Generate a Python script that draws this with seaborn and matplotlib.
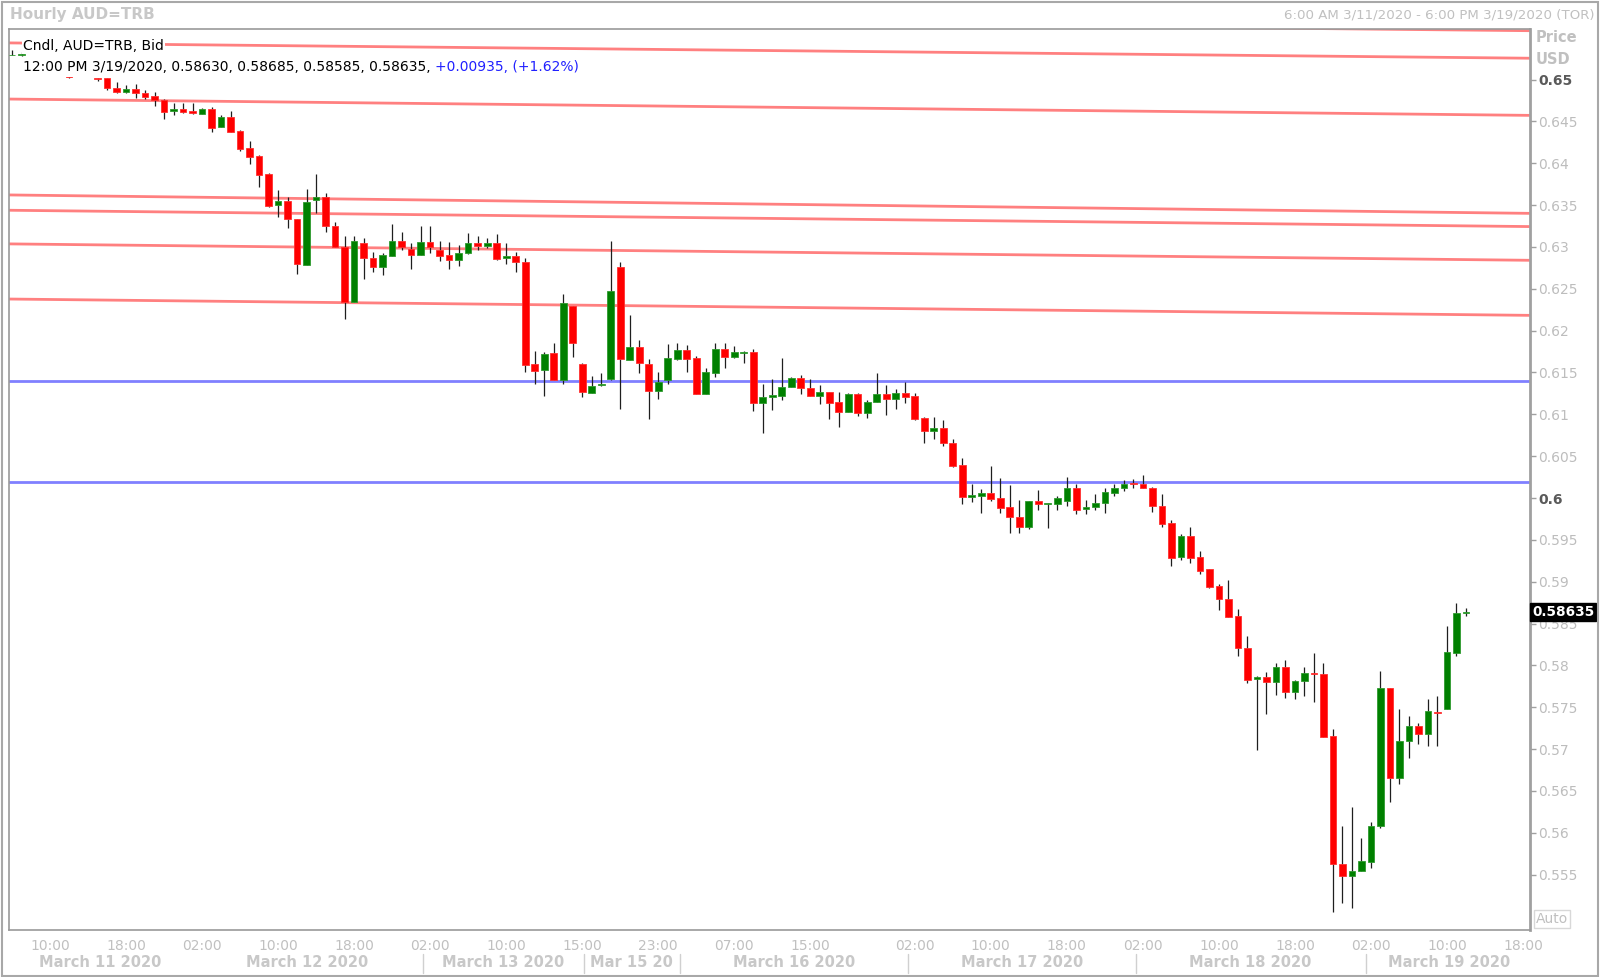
import matplotlib
matplotlib.use("Agg")
import matplotlib.pyplot as plt
import matplotlib.transforms as mtransforms
from matplotlib.patches import Rectangle
import pandas as pd
import seaborn as sns

# hourly AUD=TRB bid candles, 6:00 AM 3/11/2020 .. 12:00 PM 3/19/2020
opens = [0.6529, 0.6529, 0.6523, 0.6518, 0.6514, 0.6510, 0.6506, 0.6506, 0.6508, 0.65016,
         0.65016, 0.64904, 0.64857, 0.64888, 0.64837, 0.64805, 0.64757, 0.64629, 0.64645, 0.64625,
         0.64590, 0.64645, 0.64430, 0.64558, 0.64386, 0.64179, 0.64088, 0.63873, 0.63498, 0.63554,
         0.63331, 0.62789, 0.63562, 0.63602, 0.63255, 0.63004, 0.62347, 0.63044, 0.62865, 0.62757,
         0.62892, 0.63072, 0.62972, 0.62908, 0.63060, 0.62964, 0.62904, 0.62845, 0.62924, 0.63044,
         0.63012, 0.63052, 0.62865, 0.62892, 0.62825, 0.61602, 0.61530, 0.61729, 0.61411, 0.62295,
         0.61602, 0.61259, 0.61351, 0.61423, 0.62765, 0.61650, 0.61801, 0.61602, 0.61279, 0.61411,
         0.61662, 0.61769, 0.61678, 0.61243, 0.61490, 0.61777, 0.61690, 0.61733, 0.61741, 0.61140,
         0.61204, 0.61223, 0.61331, 0.61431, 0.61319, 0.61223, 0.61271, 0.61144, 0.61024, 0.61243,
         0.61012, 0.61144, 0.61243, 0.61184, 0.61251, 0.61220, 0.60955, 0.60800, 0.60840, 0.60661,
         0.60394, 0.60008, 0.60028, 0.60055, 0.60004, 0.59888, 0.59777, 0.59649, 0.59964, 0.59928,
         0.59928, 0.59968, 0.60123, 0.59868, 0.59896, 0.59936, 0.60063, 0.60123, 0.60175, 0.60167,
         0.60123, 0.59908, 0.59697, 0.59299, 0.59546, 0.59291, 0.59147, 0.58952, 0.58793, 0.58590,
         0.58203, 0.57832, 0.57856, 0.57797, 0.57984, 0.57685, 0.57813, 0.57904, 0.57896, 0.57155,
         0.55621, 0.55486, 0.55542, 0.55653, 0.56084, 0.57725, 0.56657, 0.57096, 0.57279, 0.57179,
         0.57438, 0.57478, 0.58151, 0.58630]
highs = [0.6535, 0.6533, 0.6523, 0.6520, 0.6516, 0.6512, 0.6507, 0.6510, 0.6510, 0.65020,
         0.65020, 0.64968, 0.64936, 0.64944, 0.64876, 0.64853, 0.64765, 0.64725, 0.64725, 0.64725,
         0.64657, 0.64669, 0.64578, 0.64625, 0.64398, 0.64267, 0.64100, 0.63880, 0.63681, 0.63602,
         0.63331, 0.63689, 0.63868, 0.63641, 0.63295, 0.63131, 0.63131, 0.63104, 0.62936, 0.62932,
         0.63275, 0.63175, 0.63044, 0.63251, 0.63251, 0.63072, 0.63056, 0.63024, 0.63163, 0.63131,
         0.63104, 0.63155, 0.63044, 0.62936, 0.62873, 0.61757, 0.61749, 0.61849, 0.62439, 0.62295,
         0.61618, 0.61458, 0.61490, 0.63076, 0.62825, 0.62188, 0.61889, 0.61662, 0.61502, 0.61837,
         0.61849, 0.61829, 0.61701, 0.61550, 0.61857, 0.61849, 0.61821, 0.61761, 0.61777, 0.61359,
         0.61419, 0.61678, 0.61450, 0.61466, 0.61419, 0.61351, 0.61271, 0.61263, 0.61259, 0.61251,
         0.61172, 0.61490, 0.61351, 0.61303, 0.61383, 0.61251, 0.60973, 0.60972, 0.60932, 0.60701,
         0.60474, 0.60167, 0.60103, 0.60386, 0.60235, 0.60155, 0.59976, 0.59964, 0.60095, 0.59940,
         0.60028, 0.60247, 0.60167, 0.59976, 0.60044, 0.60115, 0.60167, 0.60215, 0.60227, 0.60275,
         0.60135, 0.60048, 0.59737, 0.59570, 0.59649, 0.59366, 0.59147, 0.58968, 0.59020, 0.58670,
         0.58351, 0.57872, 0.57916, 0.58032, 0.58064, 0.57825, 0.57976, 0.58151, 0.58024, 0.57235,
         0.56084, 0.56311, 0.55933, 0.56131, 0.57932, 0.57725, 0.57474, 0.57394, 0.57307, 0.57597,
         0.57633, 0.58470, 0.58749, 0.58685]
lows = [0.6529, 0.6528, 0.6515, 0.6512, 0.6508, 0.6506, 0.6502, 0.6505, 0.6505, 0.64980,
        0.64880, 0.64837, 0.64845, 0.64777, 0.64765, 0.64685, 0.64530, 0.64578, 0.64598, 0.64586,
        0.64590, 0.64370, 0.64430, 0.64378, 0.64151, 0.63988, 0.63721, 0.63482, 0.63355, 0.63223,
        0.62677, 0.62781, 0.63410, 0.63175, 0.63004, 0.62135, 0.62347, 0.62618, 0.62697, 0.62665,
        0.62892, 0.62964, 0.62733, 0.62908, 0.62932, 0.62837, 0.62737, 0.62777, 0.62912, 0.62964,
        0.62984, 0.62845, 0.62793, 0.62697, 0.61510, 0.61359, 0.61223, 0.61411, 0.61359, 0.61689,
        0.61204, 0.61259, 0.61343, 0.61411, 0.61060, 0.61650, 0.61490, 0.60945, 0.61184, 0.61359,
        0.61654, 0.61500, 0.61243, 0.61243, 0.61450, 0.61558, 0.61678, 0.61610, 0.61040, 0.60780,
        0.61052, 0.61172, 0.61323, 0.61243, 0.61223, 0.61120, 0.60945, 0.60853, 0.61024, 0.60980,
        0.60961, 0.61144, 0.60992, 0.61060, 0.61140, 0.60933, 0.60653, 0.60705, 0.60625, 0.60374,
        0.59924, 0.59956, 0.59824, 0.59968, 0.59816, 0.59585, 0.59585, 0.59629, 0.59856, 0.59637,
        0.59856, 0.59904, 0.59808, 0.59808, 0.59856, 0.59824, 0.60028, 0.60083, 0.60115, 0.60115,
        0.59836, 0.59649, 0.59191, 0.59259, 0.59219, 0.59092, 0.58920, 0.58661, 0.58574, 0.58115,
        0.57785, 0.56988, 0.57418, 0.57645, 0.57613, 0.57593, 0.57637, 0.57566, 0.57139, 0.55050,
        0.55160, 0.55100, 0.55542, 0.55574, 0.56052, 0.56370, 0.56578, 0.56888, 0.57056, 0.57036,
        0.57040, 0.57478, 0.58115, 0.58585]
closes = [0.6529, 0.6531, 0.6518, 0.6514, 0.6510, 0.6508, 0.6503, 0.6508, 0.6506, 0.65004,
          0.64896, 0.64857, 0.64888, 0.64837, 0.64797, 0.64757, 0.64617, 0.64645, 0.64617, 0.64598,
          0.64645, 0.64426, 0.64558, 0.64378, 0.64167, 0.64080, 0.63861, 0.63490, 0.63554, 0.63331,
          0.62797, 0.63542, 0.63594, 0.63251, 0.63004, 0.62347, 0.63072, 0.62872, 0.62757, 0.62904,
          0.63072, 0.63004, 0.62908, 0.63060, 0.63004, 0.62892, 0.62845, 0.62932, 0.63044, 0.63012,
          0.63052, 0.62857, 0.62892, 0.62817, 0.61590, 0.61522, 0.61721, 0.61411, 0.62327, 0.61849,
          0.61271, 0.61343, 0.61359, 0.62475, 0.61658, 0.61810, 0.61618, 0.61279, 0.61383, 0.61678,
          0.61769, 0.61662, 0.61243, 0.61502, 0.61777, 0.61690, 0.61741, 0.61741, 0.61140, 0.61204,
          0.61231, 0.61331, 0.61431, 0.61311, 0.61223, 0.61271, 0.61140, 0.61024, 0.61243, 0.61012,
          0.61152, 0.61243, 0.61184, 0.61251, 0.61212, 0.60941, 0.60800, 0.60840, 0.60653, 0.60386,
          0.60008, 0.60036, 0.60055, 0.59984, 0.59884, 0.59777, 0.59649, 0.59964, 0.59924, 0.59936,
          0.60004, 0.60123, 0.59856, 0.59896, 0.59944, 0.60067, 0.60123, 0.60167, 0.60163, 0.60115,
          0.59904, 0.59689, 0.59287, 0.59546, 0.59287, 0.59131, 0.58940, 0.58789, 0.58574, 0.58203,
          0.57824, 0.57856, 0.57797, 0.57984, 0.57685, 0.57813, 0.57904, 0.57892, 0.57147, 0.55621,
          0.55486, 0.55546, 0.55661, 0.56084, 0.57725, 0.56657, 0.57096, 0.57279, 0.57179, 0.57454,
          0.57430, 0.58155, 0.58621, 0.58635]

# hour ticks along the bar index axis
tick_pos = [4, 12, 20, 28, 36, 44, 52, 60, 68, 76, 84, 87, 95, 103, 111, 119, 127, 135, 143, 151, 159]
tick_labels = ["10:00", "18:00", "02:00", "10:00", "18:00", "02:00", "10:00", "15:00", "23:00",
               "07:00", "15:00", "", "02:00", "10:00", "18:00", "02:00", "10:00", "18:00",
               "02:00", "10:00", "18:00"]
day_labels = ["March 11 2020", "March 12 2020", "March 13 2020", "Mar 15 20", "March 16 2020",
              "March 17 2020", "March 18 2020", "March 19 2020"]
day_label_pos = [9.3, 31.1, 51.7, 65.2, 82.3, 106.3, 130.3, 151.2]
day_breaks = [43.2, 60.2, 70.3, 94.3, 118.3, 142.5]

# drawn trend lines (price at left edge / right edge) and support levels
red_left = [0.65768, 0.65439, 0.64768, 0.63622, 0.63439, 0.63037, 0.62378]
red_right = [0.65585, 0.65256, 0.64573, 0.63402, 0.63244, 0.62841, 0.62183]
blue_levels = [0.61400, 0.60190]

y_ticks = [0.555, 0.56, 0.565, 0.57, 0.575, 0.58, 0.585, 0.59, 0.595, 0.6,
           0.605, 0.61, 0.615, 0.62, 0.625, 0.63, 0.635, 0.64, 0.645, 0.65]

X_MIN, X_MAX = -0.3, 159.7
Y_MIN, Y_MAX = 0.54842, 0.6561

sns.set_style("white")
plt.rcParams["font.family"] = ["DejaVu Sans"]

fig = plt.figure(figsize=(16, 9.77), dpi=100)
ax = fig.add_axes([9.2 / 1600, 47.4 / 977, 1520.4 / 1600, 901.0 / 977])

# trend lines through seaborn
rows = []
for k, (a, b) in enumerate(zip(red_left, red_right)):
    rows.append({"x": X_MIN, "price": a, "line": k})
    rows.append({"x": X_MAX, "price": b, "line": k})
lines_df = pd.DataFrame(rows)
sns.lineplot(data=lines_df, x="x", y="price", units="line", estimator=None,
             color="#ff8080", lw=2.0, ax=ax, legend=False, zorder=1)
for lv in blue_levels:
    ax.axhline(lv, color="#8080ff", lw=2.0, zorder=1)

# candles
idx = list(range(len(opens)))
up = [c >= o for o, c in zip(opens, closes)]
body_bottom = [min(o, c) for o, c in zip(opens, closes)]
body_h = [max(abs(c - o), 0.00004) for o, c in zip(opens, closes)]
colors = ["#008000" if u else "#ff0000" for u in up]
edges = ["#2e9a2e" if u else "#ff3030" for u in up]
ax.vlines(idx, lows, highs, color="#1e1e1e", lw=0.9, zorder=2)
ax.bar(idx, body_h, bottom=body_bottom, width=0.7, color=colors,
       edgecolor=edges, linewidth=0.6, zorder=3)

ax.set_xlim(X_MIN, X_MAX)
ax.set_ylim(Y_MIN, Y_MAX)
ax.set_xlabel("")
ax.set_ylabel("")

# right price axis
ax.yaxis.tick_right()
ax.set_yticks(y_ticks)
ax.set_yticklabels([f"{v:g}" for v in y_ticks])
ax.tick_params(axis="y", direction="out", length=4, width=1, color="#a0a0a0",
               labelsize=10, labelcolor="#bdbdbd", pad=2)
for v, lab in zip(y_ticks, ax.get_yticklabels()):
    if abs(v - 0.65) < 1e-9 or abs(v - 0.6) < 1e-9:
        lab.set_fontweight("bold")
        lab.set_color("#5a5a5a")

# hour axis
ax.set_xticks(tick_pos)
ax.set_xticklabels(tick_labels)
ax.tick_params(axis="x", direction="out", length=4, width=1, color="#c8c8c8",
               labelsize=10, labelcolor="#c0c0c0", pad=3)

for side in ["top", "left", "bottom"]:
    ax.spines[side].set_color("#9a9a9a")
    ax.spines[side].set_linewidth(1.2)
ax.spines["right"].set_color("#a0a0a0")
ax.spines["right"].set_linewidth(2)
ax.grid(False)

# date row and day separators below the hour labels
date_tr = mtransforms.blended_transform_factory(ax.transData, ax.transAxes) + \
    mtransforms.ScaledTranslation(0, -0.33, fig.dpi_scale_trans)
for pos, lab in zip(day_label_pos, day_labels):
    ax.text(pos, 0, lab, transform=date_tr, ha="center", va="center",
            fontsize=10.5, fontweight="bold", color="#c8c8c8", clip_on=False)
sep_tr = mtransforms.blended_transform_factory(ax.transData, ax.transAxes) + \
    mtransforms.ScaledTranslation(0, -0.43, fig.dpi_scale_trans)
for pos in day_breaks:
    ax.plot([pos, pos], [0, 0.021], transform=sep_tr, color="#d0d0d0", lw=1, clip_on=False)

# legend block at top left
t1 = fig.text(23 / 1600, 1 - 46 / 977, "Cndl, AUD=TRB, Bid", fontsize=10, color="black",
              va="center", ha="left", zorder=10,
              bbox=dict(facecolor="white", edgecolor="none", pad=1.0))
t2 = fig.text(23 / 1600, 1 - 67 / 977,
              "12:00 PM 3/19/2020, 0.58630, 0.58685, 0.58585, 0.58635, ",
              fontsize=10, color="black", va="center", ha="left", zorder=10,
              bbox=dict(facecolor="white", edgecolor="none", pad=2.0))
fig.canvas.draw()
bb = t2.get_window_extent()
fig.text(bb.x1 / fig.bbox.width, 1 - 67 / 977, "+0.00935, (+1.62%)", fontsize=10,
         color="#2020ff", va="center", ha="left", zorder=10,
         bbox=dict(facecolor="white", edgecolor="none", pad=2.0))

# header
fig.text(10 / 1600, 1 - 15 / 977, "Hourly AUD=TRB", fontsize=11, fontweight="bold",
         color="#c8c8c8", va="center", ha="left")
fig.text(1594 / 1600, 1 - 15 / 977, "6:00 AM 3/11/2020 - 6:00 PM 3/19/2020 (TOR)",
         fontsize=9.6, color="#c0c0c0", va="center", ha="right")
fig.text(1536 / 1600, 1 - 38 / 977, "Price", fontsize=10.5, fontweight="bold",
         color="#c0c0c0", va="center", ha="left")
fig.text(1536 / 1600, 1 - 59 / 977, "USD", fontsize=10.5, fontweight="bold",
         color="#c0c0c0", va="center", ha="left")

# last price tag
ax.text(1.0015, closes[-1], f"{closes[-1]:.5f}",
        transform=mtransforms.blended_transform_factory(ax.transAxes, ax.transData),
        ha="left", va="center", fontsize=9.8, fontweight="bold", color="white",
        bbox=dict(facecolor="black", edgecolor="black", pad=1.3), clip_on=False, zorder=10)

fig.text(1536 / 1600, 1 - 919 / 977, "Auto", fontsize=10, color="#c0c0c0",
         va="center", ha="left",
         bbox=dict(facecolor="white", edgecolor="#d8d8d8", pad=1.5))

fig.add_artist(Rectangle((0.001, 0.001), 0.998, 0.997, transform=fig.transFigure,
                         fill=False, edgecolor="#a8a8a8", lw=1.5))

fig.savefig("out.png", dpi=100)
